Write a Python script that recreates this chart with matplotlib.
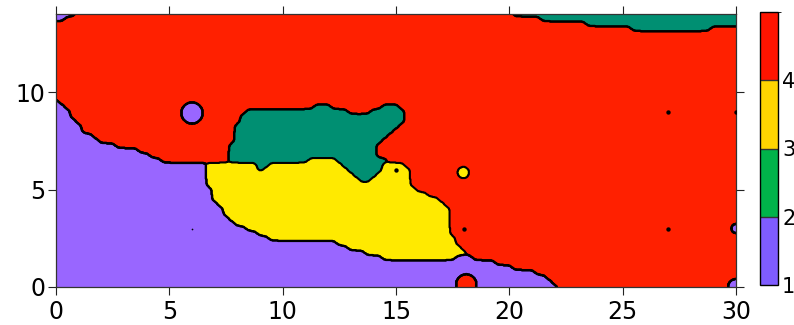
import numpy as np
import matplotlib as mpl
import matplotlib.pyplot as plt
from matplotlib.colors import ListedColormap, BoundaryNorm

plt.rcParams['font.family'] = ['DejaVu Sans']

# class map: one row every 0.25 in y (top row is y = 14),
# each token is a class letter and the column (x / 0.25) where that run starts
x_max, y_max = 30, 14
x_step = 0.25
class_codes = {"P": 1, "G": 2, "Y": 3, "R": 4}
rows = [
    "P0 R4 G81",
    "P0 R2 G86",
    "R0 G94",
    "R0 G102 R116",
    "R0", "R0", "R0", "R0", "R0", "R0", "R0",
    "R0", "R0", "R0", "R0", "R0", "R0", "R0",
    "P0 R1",
    "P0 R2 G46 R49 G58 R61",
    "P0 R3 G34 R52 G56 R62",
    "P0 R3 G33 R62",
    "P0 R4 G33 R62",
    "P0 R5 G32 R61",
    "P0 R5 G32 R60",
    "P0 R7 G32 R59",
    "P0 R8 G32 R58",
    "P0 R11 G31 R57",
    "P0 R15 G31 R57",
    "P0 R17 G31 R57",
    "P0 R19 G31 Y45 G50 R59",
    "P0 Y27 G36 Y38 G51 Y58 R62",
    "P0 Y27 G36 Y37 G52 Y58 R63",
    "P0 Y27 G53 Y57 R63",
    "P0 Y27 G54 Y56 R63",
    "P0 Y27 R63",
    "P0 Y28 R64",
    "P0 Y28 R66",
    "P0 Y28 R68",
    "P0 Y29 R69",
    "P0 Y30 R70",
    "P0 Y30 R70",
    "P0 Y31 R70",
    "P0 Y32 R70",
    "P0 Y34 R70",
    "P0 Y36 R70",
    "P0 Y38 R71",
    "P0 Y50 R71",
    "P0 Y52 R72",
    "P0 Y55 R73",
    "P0 Y58 P71 R74",
    "P0 R78",
    "P0 R81",
    "P0 R85",
    "P0 R87",
    "P0 R88",
    "P0 R89",
]

# small round patches around single samples
spot_x = [6.0, 17.97, 18.1, 30.0, 30.0]
spot_y = [8.92, 5.87, 0.13, 3.0, 0.0]
spot_r = [0.47, 0.25, 0.45, 0.2, 0.35]
spot_cls = [1, 3, 4, 1, 1]

# sample points that show up as black dots
dot_x = [15, 18, 27, 27, 30]
dot_y = [6, 3, 9, 3, 9]
tiny_x = [6]
tiny_y = [3]

map_colors = ["#9966ff", "#008f72", "#ffea00", "#ff2000"]
bar_colors = ["#7f5cff", "#00b34a", "#ffd500", "#ff1400"]
bar_bounds = [1, 2, 3, 4, 5]
bar_ticks = [1, 2, 3, 4]
x_ticks = [0, 5, 10, 15, 20, 25, 30]
y_ticks = [0, 5, 10]

# decode the runs into a grid
ncol = int(round(x_max / x_step)) + 1
grid = np.zeros((len(rows), ncol), dtype=int)
for i, row in enumerate(rows):
    runs = [(class_codes[t[0]], int(t[1:])) for t in row.split()]
    for j, (c, start) in enumerate(runs):
        end = runs[j + 1][1] if j + 1 < len(runs) else ncol
        grid[i, start:end] = c
grid = grid[::-1]

xc = np.linspace(0, x_max, ncol)
yc = np.linspace(0, y_max, len(rows))
xf = np.linspace(0, x_max, 1201)
yf = np.linspace(0, y_max, 561)

# bilinear weights, light blur, then pick the class with the largest share
wx = np.array([np.interp(xf, xc, e) for e in np.eye(len(xc))]).T
wy = np.array([np.interp(yf, yc, e) for e in np.eye(len(yc))]).T
k = np.exp(-0.5 * (np.arange(-12, 13) / 5.0) ** 2)
k /= k.sum()


def blur(a):
    a = np.pad(a, 12, mode='edge')
    a = np.apply_along_axis(lambda v: np.convolve(v, k, mode='same'), 1, a)
    a = np.apply_along_axis(lambda v: np.convolve(v, k, mode='same'), 0, a)
    return a[12:-12, 12:-12]


score = [blur(wy @ (grid == c).astype(float) @ wx.T) for c in range(1, 5)]
label = np.argmax(score, axis=0) + 1

X, Y = np.meshgrid(xf, yf)
for sx, sy, r, c in zip(spot_x, spot_y, spot_r, spot_cls):
    inside = ((X - sx) / r) ** 2 + ((Y - sy) / (r * 1.16)) ** 2 <= 1
    label[inside] = c

fig = plt.figure(figsize=(7.94, 3.25), dpi=100)
ax = fig.add_axes([56 / 794, 1 - 287 / 325, 680 / 794, 273 / 325])
ax.imshow(label, origin='lower', extent=[0, x_max, 0, y_max],
          cmap=ListedColormap(map_colors), vmin=0.5, vmax=4.5,
          aspect='auto', interpolation='nearest')
ax.contour(xf, yf, label, levels=[1.5, 2.5, 3.5], colors='k', linewidths=1.5)
ax.scatter(dot_x, dot_y, s=10, c='k', zorder=3, linewidths=0)
ax.scatter(tiny_x, tiny_y, s=1.5, c='k', zorder=3, linewidths=0)

ax.set_xlim(0, x_max)
ax.set_ylim(0, y_max)
ax.set_xticks(x_ticks)
ax.set_yticks(y_ticks)
ax.tick_params(direction='out', length=5.5, width=0.8, labelsize=17,
               top=True, right=True, colors='#222222', labelcolor='black')
ax.tick_params(axis='x', pad=4)
ax.tick_params(axis='y', pad=2)
for s in ax.spines.values():
    s.set_linewidth(0.9)
    s.set_color('#333333')

cax = fig.add_axes([760 / 794, 1 - 285 / 325, 18 / 794, 273 / 325])
norm = BoundaryNorm(bar_bounds, len(bar_colors))
cb = fig.colorbar(mpl.cm.ScalarMappable(norm=norm, cmap=ListedColormap(bar_colors)),
                  cax=cax, ticks=bar_ticks, drawedges=True)
cb.outline.set_linewidth(1.0)
cb.dividers.set_color('#333333')
cb.dividers.set_linewidth(1.0)
cax.tick_params(length=0, labelsize=15, pad=3)

fig.savefig('out.png', dpi=100)
